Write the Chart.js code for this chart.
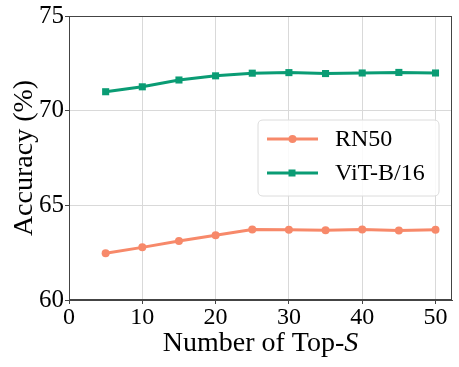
<!DOCTYPE html>
<html>
<head>
<meta charset="utf-8">
<script src="https://cdn.jsdelivr.net/npm/chart.js@4"></script>
<style>
html,body{margin:0;padding:0;background:#fff;}
#wrap{width:459px;height:367px;position:relative;}
</style>
</head>
<body>
<div id="wrap"><canvas id="c" width="459" height="367"></canvas></div>
<script>
const topS = [5, 10, 15, 20, 25, 30, 35, 40, 45, 50];
const rn50 = [62.47, 62.78, 63.12, 63.42, 63.72, 63.71, 63.69, 63.72, 63.67, 63.71];
const vitB16 = [71.00, 71.26, 71.62, 71.84, 71.98, 72.01, 71.96, 71.99, 72.02, 71.99];
const xTicks = [0, 10, 20, 30, 40, 50];
const yTicks = [60, 65, 70, 75];
const seriesNames = ['RN50', 'ViT-B/16'];
const xTitle = ['Number of Top-', 'S'];
const yTitle = 'Accuracy (%)';

const ORANGE = '#f7896a';
const GREEN = '#0a9c74';
const FONT = '"Liberation Serif", "Times New Roman", serif';

function pts(xs, ys){ return xs.map((x,i)=>({x:x, y:ys[i]})); }

const framePlugin = {
  id: 'frame',
  afterDraw(chart){
    const ctx = chart.ctx, a = chart.chartArea;
    ctx.save();
    ctx.strokeStyle = '#444';
    ctx.lineWidth = 1;
    ctx.strokeRect(Math.round(a.left)+0.5, Math.round(a.top)+0.5, Math.round(a.right-a.left)-1, Math.round(a.bottom-a.top)-1);
    // x title
    ctx.fillStyle = '#000';
    ctx.textBaseline = 'alphabetic';
    const f1 = '28px ' + FONT, f2 = 'italic 28px ' + FONT;
    ctx.font = f1; const w1 = ctx.measureText(xTitle[0]).width;
    ctx.font = f2; const w2 = ctx.measureText(xTitle[1]).width;
    const cx = (a.left + a.right)/2;
    let sx = cx - (w1+w2)/2;
    ctx.font = f1; ctx.textAlign = 'left'; ctx.fillText(xTitle[0], sx, 351);
    ctx.font = f2; ctx.fillText(xTitle[1], sx + w1, 351);
    // y title
    ctx.save();
    ctx.translate(32, (a.top + a.bottom)/2);
    ctx.rotate(-Math.PI/2);
    ctx.font = f1; ctx.textAlign = 'center';
    ctx.fillText(yTitle, 0, 0);
    ctx.restore();
    // legend
    const bx = 258, by = 120, bw = 181, bh = 76, r = 5;
    ctx.beginPath();
    ctx.moveTo(bx+r, by); ctx.lineTo(bx+bw-r, by); ctx.quadraticCurveTo(bx+bw, by, bx+bw, by+r);
    ctx.lineTo(bx+bw, by+bh-r); ctx.quadraticCurveTo(bx+bw, by+bh, bx+bw-r, by+bh);
    ctx.lineTo(bx+r, by+bh); ctx.quadraticCurveTo(bx, by+bh, bx, by+bh-r);
    ctx.lineTo(bx, by+r); ctx.quadraticCurveTo(bx, by, bx+r, by);
    ctx.closePath();
    ctx.fillStyle = 'rgba(255,255,255,0.85)';
    ctx.fill();
    ctx.strokeStyle = '#dcdcdc';
    ctx.lineWidth = 1;
    ctx.stroke();
    chart.data.datasets.forEach((ds, i) => {
      const y = 139 + i*34;
      ctx.strokeStyle = ds.borderColor; ctx.lineWidth = 3;
      ctx.beginPath(); ctx.moveTo(267, y); ctx.lineTo(318, y); ctx.stroke();
      ctx.fillStyle = ds.borderColor;
      if (ds.pointStyle === 'rect') { ctx.fillRect(292-3.5, y-3.5, 7, 7); }
      else { ctx.beginPath(); ctx.arc(292.5, y, 4, 0, Math.PI*2); ctx.fill(); }
      ctx.fillStyle = '#000'; ctx.font = '24px ' + FONT; ctx.textAlign = 'left'; ctx.textBaseline = 'middle';
      ctx.fillText(ds.label, 335, y + 1);
    });
    ctx.restore();
  }
};

new Chart(document.getElementById('c'), {
  type: 'line',
  data: {
    datasets: [
      { label: seriesNames[0], data: pts(topS, rn50), borderColor: ORANGE, backgroundColor: ORANGE,
        borderWidth: 3, pointStyle: 'circle', pointRadius: 4, pointBorderWidth: 0, pointBackgroundColor: ORANGE },
      { label: seriesNames[1], data: pts(topS, vitB16), borderColor: GREEN, backgroundColor: GREEN,
        borderWidth: 3, pointStyle: 'rect', pointRadius: 5, pointBorderWidth: 0, pointBackgroundColor: GREEN }
    ]
  },
  options: {
    responsive: false,
    animation: false,
    layout: { padding: { top: 15, right: 7, left: 0, bottom: 0 } },
    plugins: { legend: { display: false }, tooltip: { enabled: false } },
    scales: {
      x: {
        type: 'linear', min: 0, max: 52.25,
        afterBuildTicks(s){ s.ticks = xTicks.map(v=>({value:v})); },
        afterFit(s){ s.height = 67; },
        grid: { color: '#d9d9d9', lineWidth: 1, tickLength: 4, tickColor: '#444' },
        border: { display: true, color: '#444' },
        ticks: { font: { family: FONT, size: 24 }, color: '#000', padding: -1, maxRotation: 0, autoSkip: false }
      },
      y: {
        type: 'linear', min: 60, max: 75,
        afterBuildTicks(s){ s.ticks = yTicks.map(v=>({value:v})); },
        afterFit(s){ s.width = 69; },
        grid: { color: '#d9d9d9', lineWidth: 1, tickLength: 4, tickColor: '#444' },
        border: { display: true, color: '#444' },
        ticks: { font: { family: FONT, size: 25 }, color: '#000', padding: 1 }
      }
    }
  },
  plugins: [framePlugin]
});
</script>
</body>
</html>
